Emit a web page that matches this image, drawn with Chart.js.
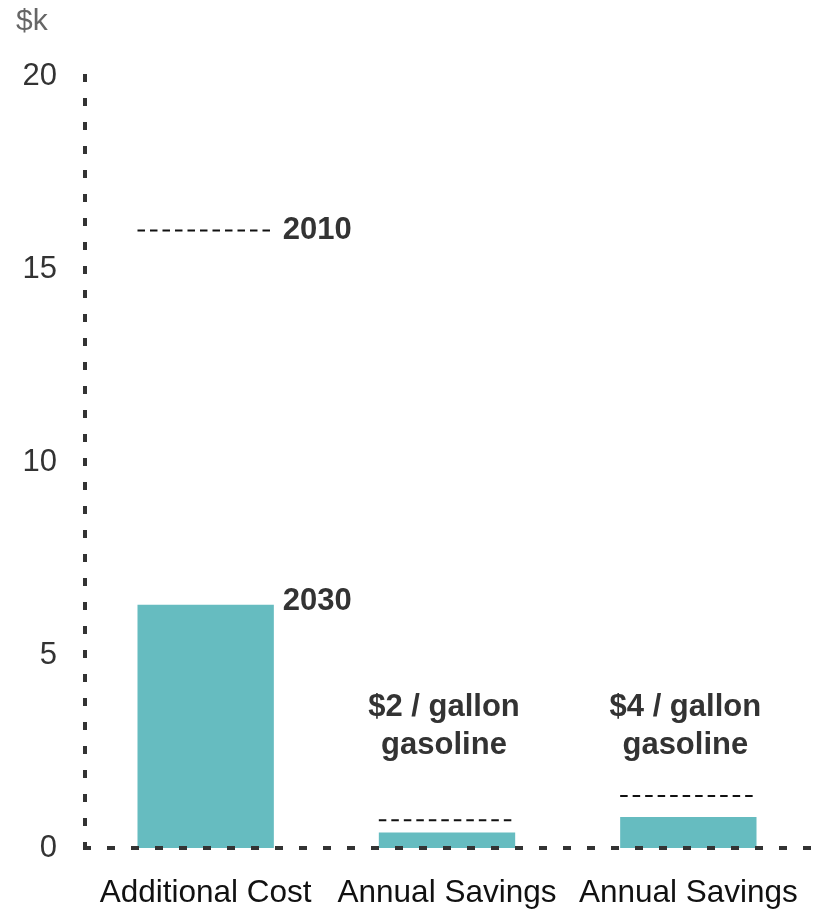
<!DOCTYPE html>
<html>
<head>
<meta charset="utf-8">
<script src="https://cdn.jsdelivr.net/npm/chart.js@4/dist/chart.umd.min.js"></script>
<style>
  html, body { margin: 0; padding: 0; background: #fff; }
  #wrap { width: 813px; height: 911px; position: relative; }
</style>
</head>
<body>
<div id="wrap"><canvas id="chart"></canvas></div>
<script>
// données ($k)
const categories = ['Additional Cost', 'Annual Savings', 'Annual Savings'];
const values2030 = [6.3, 0.4, 0.8];
const values2010 = [16, 0.72, 1.35];
const captions = [null, ['$2 / gallon', 'gasoline'], ['$4 / gallon', 'gasoline']];
const yTicks = [0, 5, 10, 15, 20];

const barColor = '#66bcc0';
const textDark = '#333333';
const fontFamily = '"Liberation Sans", Arial, sans-serif';
const boldFont = 'bold 31px ' + fontFamily;

// axes en pointillés épais
const axesPlugin = {
    id: 'dashedAxes',
    afterDatasetsDraw(chart) {
        const ctx = chart.ctx;
        const a = chart.chartArea;
        ctx.save();
        ctx.strokeStyle = '#333';
        ctx.lineWidth = 4;
        ctx.setLineDash([8, 16]);
        ctx.beginPath();
        ctx.moveTo(a.left, a.bottom + 2);
        ctx.lineTo(a.left, a.top - 2);
        ctx.stroke();
        ctx.beginPath();
        ctx.moveTo(a.left - 2, a.bottom);
        ctx.lineTo(chart.width, a.bottom);
        ctx.stroke();
        ctx.restore();
    }
};

// lignes pointillées 2010 + étiquettes
const refPlugin = {
    id: 'refLines',
    afterDatasetsDraw(chart) {
        const ctx = chart.ctx;
        const y = chart.scales.y;
        const bars = chart.getDatasetMeta(0).data;
        ctx.save();
        bars.forEach((bar, i) => {
            const left = bar.x - bar.width / 2;
            const right = bar.x + bar.width / 2;
            const ry = y.getPixelForValue(values2010[i]);
            ctx.setLineDash([7.5, 5]);
            ctx.lineWidth = 2;
            ctx.strokeStyle = '#111';
            ctx.beginPath();
            ctx.moveTo(left, ry);
            ctx.lineTo(right, ry);
            ctx.stroke();
            ctx.setLineDash([]);

            ctx.font = boldFont;
            ctx.fillStyle = textDark;
            if (i === 0) {
                ctx.textAlign = 'left';
                ctx.textBaseline = 'middle';
                ctx.fillText('2010', right + 9, ry);
                ctx.fillText('2030', right + 9, bar.y - 3);
            }
            if (captions[i]) {
                ctx.textAlign = 'center';
                ctx.textBaseline = 'middle';
                const cy = y.getPixelForValue(3.63);
                captions[i].forEach((line, k) => {
                    ctx.fillText(line, bar.x - 3, cy + k * 38);
                });
            }
        });
        ctx.restore();
    }
};

const ctx = document.getElementById('chart').getContext('2d');
new Chart(ctx, {
    type: 'bar',
    data: {
        labels: categories,
        datasets: [{
            label: '2030',
            data: values2030,
            backgroundColor: barColor,
            borderWidth: 0,
            barPercentage: 0.565,
            categoryPercentage: 1
        }]
    },
    options: {
        responsive: true,
        maintainAspectRatio: false,
        animation: false,
        layout: {
            padding: { top: 0, right: 4, bottom: 0, left: 16 }
        },
        plugins: {
            legend: { display: false },
            tooltip: { enabled: false },
            title: {
                display: true,
                text: '$k',
                align: 'start',
                color: '#666',
                font: { family: fontFamily, size: 30, weight: 'normal' },
                padding: { top: 4, bottom: 36 }
            }
        },
        scales: {
            x: {
                grid: { display: false, drawTicks: false },
                border: { display: false },
                ticks: {
                    color: '#111',
                    padding: 26,
                    font: { family: fontFamily, size: 31.5 }
                },
                afterFit(scale) {
                    scale.height = 63;
                    scale.paddingLeft = 0;
                    scale.paddingRight = 0;
                }
            },
            y: {
                min: 0,
                max: 20,
                afterBuildTicks(scale) {
                    scale.ticks = yTicks.map(v => ({ value: v }));
                },
                grid: { display: false, drawTicks: false },
                border: { display: false },
                ticks: {
                    color: textDark,
                    padding: 28,
                    font: { family: fontFamily, size: 31 }
                },
                afterFit(scale) {
                    scale.width = 69;
                }
            }
        }
    },
    plugins: [axesPlugin, refPlugin]
});
</script>
</body>
</html>
